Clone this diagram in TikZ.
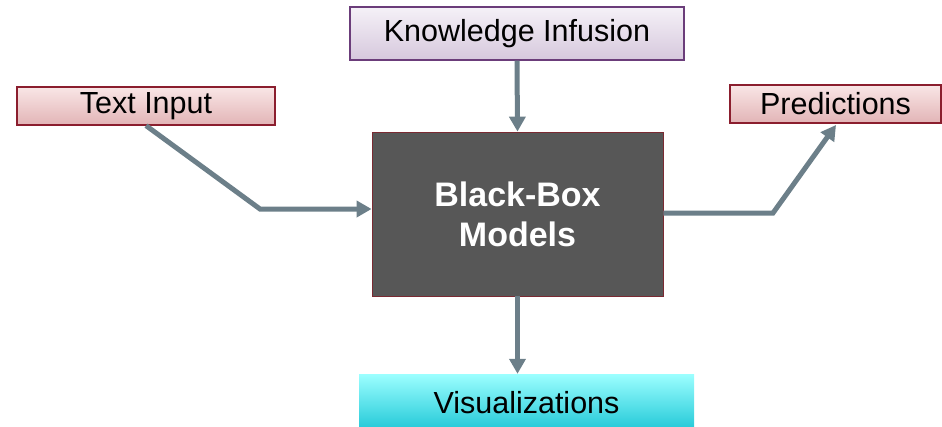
\documentclass[tikz,border=0pt]{standalone}
\usepackage{fontspec}
\setmainfont{Liberation Sans}
\usetikzlibrary{arrows.meta}
\definecolor{arrowcol}{HTML}{6C7F89}
\definecolor{redborder}{HTML}{8B1E2E}
\definecolor{redtop}{HTML}{F9E6E6}
\definecolor{redbot}{HTML}{E2B4B6}
\definecolor{purpborder}{HTML}{6B3D7A}
\definecolor{purptop}{HTML}{F5F1F7}
\definecolor{purpbot}{HTML}{D6C8DD}
\definecolor{cyantop}{HTML}{9CFFFF}
\definecolor{cyanbot}{HTML}{1EC6D6}
\definecolor{bbfill}{HTML}{575757}
\definecolor{bbborder}{HTML}{7A2A32}
\tikzset{
  x=1pt, y=-1pt,
  lbl/.style={inner sep=0pt, font=\fontsize{30.5}{34}\selectfont, text=black},
  redbox/.style={lbl, draw=redborder, line width=1.2pt, top color=redtop, bottom color=redbot},
  purpbox/.style={lbl, draw=purpborder, line width=1.2pt, top color=purptop, bottom color=purpbot},
  cyanbox/.style={lbl, top color=cyantop, bottom color=cyanbot},
  blackbox/.style={inner sep=0pt, draw=bbborder, line width=0.8pt, fill=bbfill, text=white,
    align=center, font=\bfseries\fontsize{34}{40}\selectfont},
  arr/.style={draw=arrowcol, line width=5pt, -{Triangle[length=15pt,width=16pt]}}
}
\begin{document}
\begin{tikzpicture}
\useasboundingbox (0,0) rectangle (942,426);
\node[redbox, minimum width=258pt, minimum height=38pt] (ti) at (146,106) {Text Input};
\node[purpbox, minimum width=334pt, minimum height=53pt] (ki) at (517,33.5) {Knowledge Infusion};
\node[redbox, minimum width=211pt, minimum height=38pt] (pr) at (835.5,104) {Predictions};
\node[cyanbox, minimum width=335pt, minimum height=58pt] (vis) at (526.5,403) {Visualizations};
\node[blackbox, minimum width=291pt, minimum height=164pt] (bb) at (517.5,214) {Black-Box\\Models};
\coordinate (c1) at (260,209);
\coordinate (c2) at (773,213);
\coordinate (c3) at (836,125);
\draw[arr] (ti.south) -- (c1) -- (c1 -| bb.west);
\draw[arr] (ki.south) -- (bb.north);
\draw[arr] (c2 -| bb.east) -- (c2) -- (c3);
\draw[arr] (bb.south) -- (bb.south |- vis.north);
\end{tikzpicture}
\end{document}
